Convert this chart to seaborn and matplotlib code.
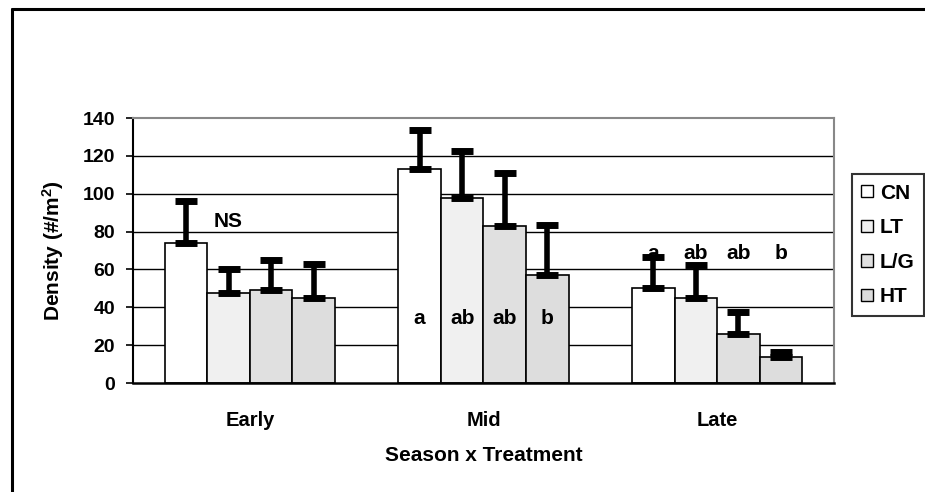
import matplotlib
matplotlib.use("Agg")
import matplotlib.pyplot as plt
import pandas as pd
import seaborn as sns
from matplotlib.lines import Line2D
from matplotlib.patches import Patch

seasons = ["Early", "Mid", "Late"]
treatments = ["CN", "LT", "L/G", "HT"]
colors = ["#ffffff", "#f0f0f0", "#e0e0e0", "#dddddd"]

# mean density per season, one list per treatment
cn = [74, 113, 50]
lt = [47.5, 98, 45]
lg = [49, 83, 26]
ht = [45, 57, 13.5]

# upper error bar length
cn_err = [22, 20.5, 16.5]
lt_err = [12.5, 24.5, 17.5]
lg_err = [16, 28, 11.5]
ht_err = [18, 26.5, 3]

# significance letters per season
early_letters = ["", "NS", "", ""]
mid_letters = ["a", "ab", "ab", "b"]
late_letters = ["a", "ab", "ab", "b"]
letter_y = [85.5, 34, 68.5]

means = [cn, lt, lg, ht]
errs = [cn_err, lt_err, lg_err, ht_err]
letters = [early_letters, mid_letters, late_letters]

rows = []
for t, vals in zip(treatments, means):
    for s, v in zip(seasons, vals):
        rows.append({"Season": s, "Treatment": t, "Density": v})
df = pd.DataFrame(rows)

sns.set_style("white")
plt.rcParams["font.family"] = ["Liberation Sans", "DejaVu Sans"]
plt.rcParams["font.weight"] = "bold"
plt.rcParams["text.color"] = "black"
plt.rcParams["axes.labelcolor"] = "black"
plt.rcParams["xtick.color"] = "black"
plt.rcParams["ytick.color"] = "black"
plt.rcParams["mathtext.fontset"] = "custom"
plt.rcParams["mathtext.rm"] = "Liberation Sans:bold"
plt.rcParams["mathtext.it"] = "Liberation Sans:bold"
plt.rcParams["mathtext.bf"] = "Liberation Sans:bold"

fig = plt.figure(figsize=(9.25, 4.92), dpi=100)
ax = fig.add_axes([0.1438, 0.2215, 0.7578, 0.5385])

sns.barplot(data=df, x="Season", y="Density", hue="Treatment", order=seasons,
            hue_order=treatments, palette=colors, width=0.73, gap=0,
            edgecolor="black", linewidth=1.2, saturation=1, legend=False, ax=ax)

bar_conts = list(ax.containers)
for i, cont in enumerate(bar_conts):
    xs = [b.get_x() + b.get_width() / 2 for b in cont]
    ys = [b.get_height() for b in cont]
    ax.errorbar(xs, ys, yerr=[[0] * len(ys), errs[i]], fmt="none", ecolor="black",
                elinewidth=4, capsize=8, capthick=5, zorder=5)
    for j in range(len(xs)):
        txt = letters[j][i]
        if txt:
            ax.text(xs[j], letter_y[j], txt, ha="center", va="center", color="black",
                    fontsize=15, fontweight="bold", zorder=6)

ax.set_ylim(0, 140)
ax.set_xlim(-0.5, 2.5)
ax.set_yticks(range(0, 141, 20))
for y in range(20, 140, 20):
    ax.axhline(y, color="black", lw=1, zorder=0)

ax.set_xticks([-0.5, 0.5, 1.5, 2.5], minor=True)
ax.tick_params(axis="x", which="major", length=0, pad=20, labelsize=14.5, labelcolor="black")
ax.tick_params(axis="x", which="minor", length=5, width=1.5, direction="out", color="black")
ax.tick_params(axis="y", length=5, width=1.2, direction="out", color="black", labelsize=14,
               pad=8, labelcolor="black")
ax.tick_params(bottom=True, left=True)
for lab in ax.get_xticklabels() + ax.get_yticklabels():
    lab.set_fontweight("bold")

ax.spines["left"].set_color("black")
ax.spines["left"].set_linewidth(1.5)
ax.spines["bottom"].set_color("black")
ax.spines["bottom"].set_linewidth(1.8)
ax.spines["top"].set_color("#888888")
ax.spines["top"].set_linewidth(1.5)
ax.spines["right"].set_color("#888888")
ax.spines["right"].set_linewidth(1.5)

ax.set_xlabel("Season x Treatment", fontsize=15, fontweight="bold", labelpad=12, color="black")
ax.set_ylabel("Density (#/m$^2$)", fontsize=15, fontweight="bold", labelpad=12, color="black")

handles = [Patch(facecolor=c, edgecolor="black", linewidth=1) for c in colors]
leg = fig.legend(handles, treatments, loc="upper left", bbox_to_anchor=(0.921, 0.646),
                 bbox_transform=fig.transFigure, borderaxespad=0, frameon=True,
                 fancybox=False, handlelength=0.55, handleheight=0.55, handletextpad=0.35,
                 labelspacing=0.75, borderpad=0.45, prop={"size": 15, "weight": "bold"})
leg.get_frame().set_edgecolor("black")
leg.get_frame().set_linewidth(1.5)

# outer chart frame
fig.add_artist(Line2D([12 / 925, 1], [1 - 9 / 492, 1 - 9 / 492], color="black", lw=2.2,
                      transform=fig.transFigure))
fig.add_artist(Line2D([12 / 925, 12 / 925], [0, 1 - 9 / 492], color="black", lw=2.2,
                      transform=fig.transFigure))

fig.savefig("out.png", dpi=100)
